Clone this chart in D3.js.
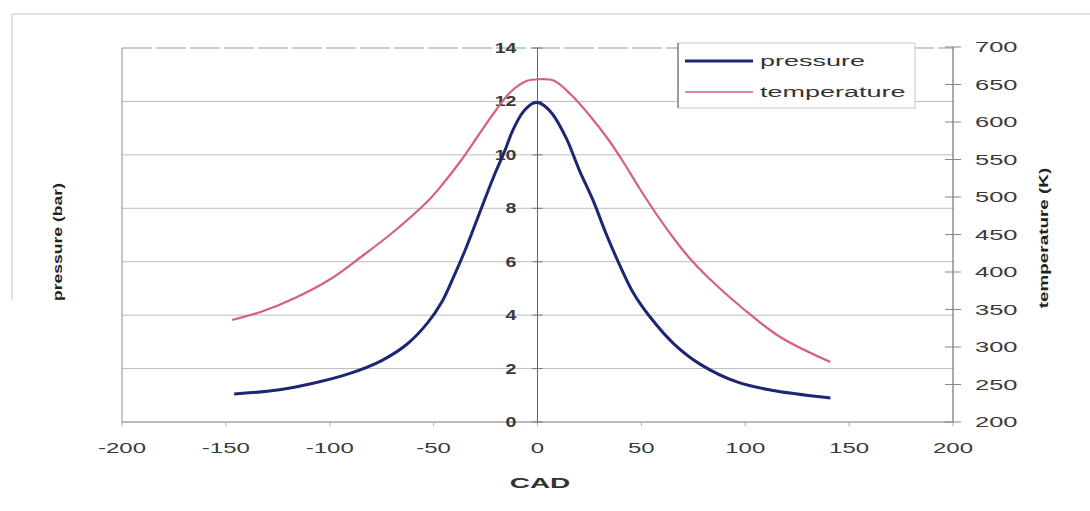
<!DOCTYPE html>
<html>
<head>
<meta charset="utf-8">
<script src="https://cdn.jsdelivr.net/npm/d3@7"></script>
<style>
  html, body { margin: 0; padding: 0; background: #fff; }
  svg { display: block; }
  text { font-family: "Liberation Sans", Arial, sans-serif; }
</style>
</head>
<body>
<svg id="chart" width="1090" height="511"></svg>
<script>
// ---- data ----
const pressureCAD = [-146, -125, -108, -91, -75, -63, -53, -46, -40, -35, -29, -21, -16, -12, -7, -2, 1, 7, 14, 20, 27, 33, 40, 46, 54, 66, 79, 96, 112, 141];
const pressureBar = [1.05, 1.2, 1.45, 1.8, 2.3, 2.9, 3.7, 4.5, 5.5, 6.4, 7.6, 9.2, 10.1, 10.9, 11.6, 11.94, 11.94, 11.55, 10.6, 9.45, 8.25, 7.05, 5.8, 4.85, 3.95, 2.9, 2.13, 1.5, 1.2, 0.9];
const temperatureCAD = [-147, -133, -117, -100, -85, -70, -53, -46, -37, -29, -21, -13, -5, 1, 8, 17, 25, 34, 41, 49, 58, 65, 73, 82, 99, 117, 141];
const temperatureK = [336, 347, 365, 390, 420, 452, 494, 516, 548, 580, 612, 640, 655, 657, 655, 634, 609, 577, 548, 512, 474, 447, 419, 393, 351, 313, 280];
const xTicks = [-200, -150, -100, -50, 0, 50, 100, 150, 200];
const leftTicks = [0, 2, 4, 6, 8, 10, 12, 14];
const rightTicks = [200, 250, 300, 350, 400, 450, 500, 550, 600, 650, 700];
const seriesNames = ["pressure", "temperature"];
const seriesColors = ["#1d2672", "#d5607f"];

// ---- scales ----
const svg = d3.select("#chart");
const x = d3.scaleLinear().domain([-200, 200]).range([122, 953]);
const yL = d3.scaleLinear().domain([0, 14]).range([422, 48]);
const yR = d3.scaleLinear().domain([200, 700]).range([422, 47]);

function stext(g, str, px, py, opts) {
  const o = Object.assign({size: 15, sx: 1.6, anchor: "middle", weight: "normal", fill: "#333", rot: 0}, opts || {});
  return g.append("text")
    .attr("transform", `translate(${px},${py}) rotate(${o.rot}) scale(${o.sx},1)`)
    .attr("text-anchor", o.anchor)
    .attr("font-size", o.size)
    .attr("font-weight", o.weight)
    .attr("fill", o.fill)
    .text(str);
}

// outer chart frame (partial, as in the scan)
svg.append("line").attr("x1", 12).attr("x2", 1090).attr("y1", 14).attr("y2", 14).attr("stroke", "#c4c4c4");
svg.append("line").attr("x1", 12).attr("x2", 12).attr("y1", 14).attr("y2", 300).attr("stroke", "#c4c4c4");

// gridlines (left axis)
svg.append("g").selectAll("line").data(leftTicks.filter(d => d > 0 && d < 14)).join("line")
  .attr("x1", x(-200)).attr("x2", x(200))
  .attr("y1", d => yL(d)).attr("y2", d => yL(d))
  .attr("stroke", "#bdbdbd").attr("stroke-width", 1);

// plot area border
svg.append("line").attr("x1", x(-200)).attr("x2", x(200)).attr("y1", yL(14)).attr("y2", yL(14)).attr("stroke", "#999").attr("stroke-dasharray", "30,4");
svg.append("line").attr("x1", x(-200)).attr("x2", x(-200)).attr("y1", yL(14)).attr("y2", yL(0)).attr("stroke", "#8a8a8a");

// x axis
svg.append("line").attr("x1", x(-200)).attr("x2", x(200)).attr("y1", yL(0)).attr("y2", yL(0)).attr("stroke", "#777");
svg.append("g").selectAll("line").data(xTicks).join("line")
  .attr("x1", d => x(d)).attr("x2", d => x(d)).attr("y1", yL(0)).attr("y2", yL(0) + 4)
  .attr("stroke", "#aaa");
const gx = svg.append("g");
xTicks.forEach(d => stext(gx, String(d), x(d), 453, {size: 15, sx: 1.6, fill: "#3a3a3a"}));
stext(svg, "CAD", 540, 488, {size: 14, sx: 2.0, weight: "bold", fill: "#333"});

// left axis at CAD = 0
svg.append("line").attr("x1", x(0)).attr("x2", x(0)).attr("y1", yL(14)).attr("y2", yL(0)).attr("stroke", "#666");
svg.append("g").selectAll("line").data(leftTicks).join("line")
  .attr("x1", x(0) - 5).attr("x2", x(0) + 5).attr("y1", d => yL(d)).attr("y2", d => yL(d))
  .attr("stroke", "#777");
const gl = svg.append("g");
leftTicks.forEach(d => stext(gl, String(d), x(0) - 21, yL(d) + 5, {size: 14, sx: 1.4, anchor: "end", weight: "bold", fill: "#3a3a3a"}));
stext(svg, "pressure (bar)", 62, 242, {size: 13, sx: 1.35, rot: -90, weight: "bold", fill: "#222"});

// right axis
svg.append("line").attr("x1", x(200)).attr("x2", x(200)).attr("y1", yR(700)).attr("y2", yR(200)).attr("stroke", "#555");
svg.append("g").selectAll("line").data(rightTicks).join("line")
  .attr("x1", x(200) - 8).attr("x2", x(200) + 8).attr("y1", d => yR(d)).attr("y2", d => yR(d))
  .attr("stroke", "#888");
const gr = svg.append("g");
rightTicks.forEach(d => stext(gr, String(d), x(200) + 22, yR(d) + 5, {size: 15, sx: 1.7, anchor: "start", fill: "#3a3a3a"}));
stext(svg, "temperature (K)", 1048, 238, {size: 13, sx: 1.45, rot: -90, weight: "bold", fill: "#222"});

// series
const line = d3.line().curve(d3.curveCatmullRom.alpha(0.5));
svg.append("path")
  .attr("d", line(temperatureCAD.map((c, i) => [x(c), yR(temperatureK[i])])))
  .attr("fill", "none").attr("stroke", seriesColors[1]).attr("stroke-width", 2.2);
svg.append("path")
  .attr("d", line(pressureCAD.map((c, i) => [x(c), yL(pressureBar[i])])))
  .attr("fill", "none").attr("stroke", seriesColors[0]).attr("stroke-width", 3);

// legend
const lg = svg.append("g");
lg.append("rect").attr("x", 678).attr("y", 43).attr("width", 237).attr("height", 65)
  .attr("fill", "#fff").attr("stroke", "#c8c8c8");
lg.append("line").attr("x1", 678).attr("x2", 678).attr("y1", 43).attr("y2", 108).attr("stroke", "#555");
seriesNames.forEach((name, i) => {
  const yy = 61 + i * 31;
  lg.append("line").attr("x1", 685).attr("x2", 753).attr("y1", yy).attr("y2", yy)
    .attr("stroke", seriesColors[i]).attr("stroke-width", i === 0 ? 3 : 1.5);
  stext(lg, name, 760, yy + 5, {size: 15, sx: 1.8, anchor: "start", fill: "#333"});
});
</script>
</body>
</html>
